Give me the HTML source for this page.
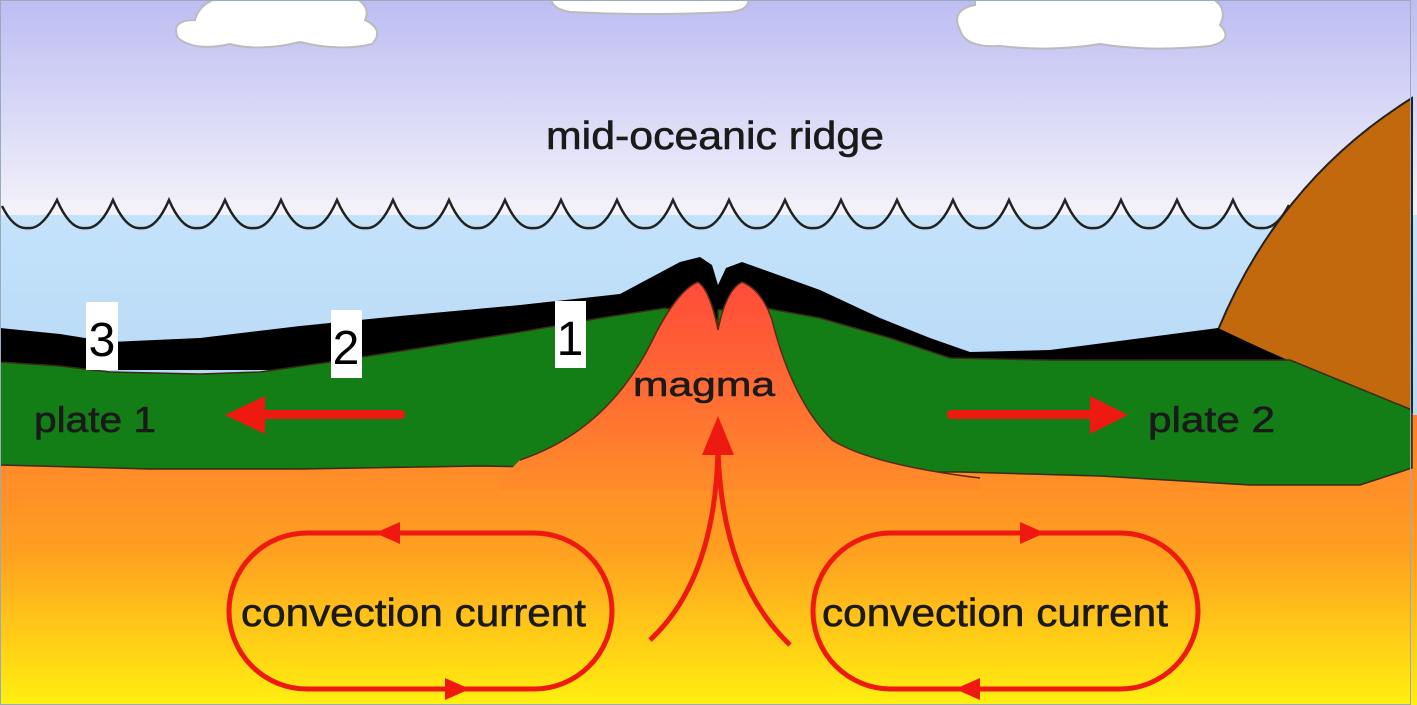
<!DOCTYPE html>
<html><head><meta charset="utf-8"><style>
html,body{margin:0;padding:0;width:1417px;height:705px;overflow:hidden;background:#fff}
svg{display:block}
text{font-family:"Liberation Sans",Arial,sans-serif}
</style></head><body>
<svg width="1417" height="705" viewBox="0 0 1417 705">
<defs>
<linearGradient id="sky" x1="0" y1="0" x2="0" y2="1">
<stop offset="0" stop-color="#bdbdf3"/><stop offset="1" stop-color="#f3f2fa"/></linearGradient>
<linearGradient id="sea" x1="0" y1="0" x2="0" y2="1">
<stop offset="0" stop-color="#c4e2fa"/><stop offset="1" stop-color="#b6d8f6"/></linearGradient>
<linearGradient id="mantle" gradientUnits="userSpaceOnUse" x1="0" y1="400" x2="0" y2="705">
<stop offset="0" stop-color="#ff7a30"/><stop offset="0.5" stop-color="#ffa020"/><stop offset="1" stop-color="#fff010"/></linearGradient>
<linearGradient id="mag" gradientUnits="userSpaceOnUse" x1="0" y1="280" x2="0" y2="480">
<stop offset="0" stop-color="#ff4a3a"/><stop offset="0.6" stop-color="#ff6e32"/><stop offset="1" stop-color="#ff8a2a"/></linearGradient>
</defs>
<rect x="0" y="0" width="1417" height="705" fill="url(#mantle)"/>
<rect x="0" y="0" width="1417" height="215" fill="url(#sky)"/>
<rect x="0" y="215" width="1417" height="200" fill="url(#sea)"/>
<path d="M0 200 L0 215 L1290 215 L1290 200 Z" fill="#f3f2fa"/>
<g fill="none" stroke="#222" stroke-width="2.5">
<path d="M2 206 Q14 230 28 228 Q42 230 57 200 Q70 230 85 228 Q100 230 113 200 Q126 230 141 228 Q156 230 169 200 Q182 230 197 228 Q212 230 225 200 Q238 230 253 228 Q268 230 281 200 Q294 230 309 228 Q324 230 337 200 Q350 230 365 228 Q380 230 393 200 Q406 230 421 228 Q436 230 449 200 Q462 230 477 228 Q492 230 505 200 Q518 230 533 228 Q548 230 561 200 Q574 230 589 228 Q604 230 617 200 Q630 230 645 228 Q660 230 673 200 Q686 230 701 228 Q716 230 729 200 Q742 230 757 228 Q772 230 785 200 Q798 230 813 228 Q828 230 841 200 Q854 230 869 228 Q884 230 897 200 Q910 230 925 228 Q940 230 953 200 Q966 230 981 228 Q996 230 1009 200 Q1022 230 1037 228 Q1052 230 1065 200 Q1078 230 1093 228 Q1108 230 1121 200 Q1134 230 1149 228 Q1164 230 1177 200 Q1190 230 1205 228 Q1220 230 1233 200 Q1246 230 1261 228 Q1276 230 1289 205"/>
</g>
<g fill="#fff" stroke="#bbb" stroke-width="2">
<path d="M178 38 Q170 20 195 20 Q200 0 230 -5 L350 -5 Q372 5 365 20 Q385 30 372 44 Q340 52 300 42 Q260 52 230 44 Q195 52 178 38 Z"/>
<path d="M552 -5 L748 -5 Q752 10 730 12 Q650 16 570 12 Q548 8 552 -5 Z"/>
<path d="M960 30 Q950 10 975 5 L975 -5 L1205 -5 Q1230 5 1220 25 Q1235 40 1210 46 Q1150 52 1100 44 Q1050 52 1000 46 Q965 48 960 30 Z"/>
</g>
<path d="M1218 330 Q1280 180 1412 98 L1412 412 L1290 362 Z" fill="#c2680d" stroke="#222" stroke-width="2"/>
<path d="M0 328 L60 334 L110 342 L200 338 L300 326 L400 316 L520 305 L620 294 L650 278 L680 262 L700 257 L712 265 L718 285 L726 268 L742 262 L770 272 L820 290 L880 318 L930 338 L970 352 L1050 350 L1218 328 L1290 362 L1300 370 L0 370 Z" fill="#000"/>
<path d="M0 362 L60 366 L110 372 L200 374 L260 372 L330 362 L420 348 L520 332 L600 318 L665 308 L720 320 L720 470 L480 466 L300 469 L150 469 L0 465 Z" fill="#137d16" stroke="#3a2a10" stroke-width="1.5"/>
<path d="M718 310 L765 308 L820 318 L890 338 L950 358 L1050 360 L1290 360 L1412 410 L1412 468 L1360 485 L1250 485 L1100 476 L960 472 L718 472 Z" fill="#137d16" stroke="#3a2a10" stroke-width="1.5"/>
<path d="M500 480 L520 460 Q610 430 655 335 Q678 290 698 282 Q710 290 718 330 Q726 290 742 282 Q762 290 772 320 Q792 400 832 440 Q872 465 980 478 L980 490 L500 490 Z" fill="url(#mag)"/>
<path d="M520 460 Q610 430 655 335 Q678 290 698 282 Q710 290 718 330 Q726 290 742 282 Q762 290 772 320 Q792 400 832 440 Q872 465 980 478" fill="none" stroke="#5a2a10" stroke-width="1.5"/>
<g font-size="48" text-anchor="middle" fill="#000">
<rect x="86" y="302" width="32" height="68" fill="#fff"/><text x="102" y="356">3</text>
<rect x="331" y="310" width="31" height="68" fill="#fff"/><text x="346" y="364">2</text>
<rect x="555" y="301" width="31" height="67" fill="#fff"/><text x="570" y="355">1</text>
</g>
<g fill="#1a1a1a" stroke="#1a1a1a" stroke-width="0.6">
<text x="715" y="149" font-size="39" text-anchor="middle" textLength="338" lengthAdjust="spacingAndGlyphs">mid-oceanic ridge</text>
<text x="704" y="396" font-size="34" text-anchor="middle" textLength="142" lengthAdjust="spacingAndGlyphs">magma</text>
<text x="34" y="432" font-size="36" textLength="122" lengthAdjust="spacingAndGlyphs">plate 1</text>
<text x="1148" y="432" font-size="36" textLength="127" lengthAdjust="spacingAndGlyphs">plate 2</text>
<text x="241" y="626" font-size="39" textLength="345" lengthAdjust="spacingAndGlyphs">convection current</text>
<text x="822" y="626" font-size="39" textLength="346" lengthAdjust="spacingAndGlyphs">convection current</text>
</g>
<g fill="#ee1a12" stroke="none">
<rect x="255" y="410" width="150" height="9" rx="4"/>
<polygon points="225,415 265,396 265,434"/>
<rect x="947" y="410" width="150" height="9" rx="4"/>
<polygon points="1128,415 1090,396 1090,434"/>
</g>
<g fill="none" stroke="#ee1a12" stroke-width="5">
<rect x="229" y="533" width="383" height="156" rx="78"/>
<rect x="813" y="533" width="385" height="156" rx="78"/>
<path d="M650 640 Q715 580 718 450"/>
<path d="M790 645 Q722 580 718 450"/>
</g>
<g fill="#ee1a12">
<polygon points="375,533 400,522 400,544"/>
<polygon points="470,689 445,678 445,700"/>
<polygon points="1045,533 1020,522 1020,544"/>
<polygon points="955,689 980,678 980,700"/>
<polygon points="718,416 702,455 734,455"/>
</g>
<rect x="0.5" y="0.5" width="1410" height="704" fill="none" stroke="#9ab" stroke-width="1"/>
</svg>
</body></html>
